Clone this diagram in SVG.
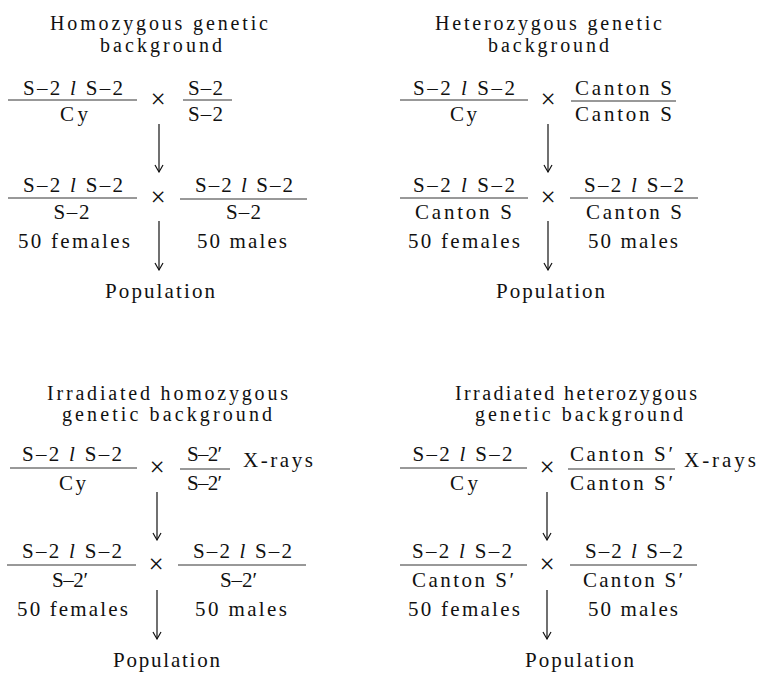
<svg xmlns="http://www.w3.org/2000/svg" width="759" height="673" viewBox="0 0 759 673">
<defs>
<style>
text{font-family:"Liberation Serif","Times New Roman",serif;font-size:21px;fill:#111;text-anchor:middle}
.ttl{font-size:20px}
.x{font-size:27px}
.bar{stroke:#333;stroke-width:1}
.arr{stroke:#111;stroke-width:1.2;fill:none}
.i{font-style:italic}
</style>
<marker id="ah" viewBox="-8 -5 9 10" refX="0" refY="0" markerWidth="9" markerHeight="10" markerUnits="userSpaceOnUse" orient="auto">
<path d="M-7,-4 Q-2,-1.2 0,0 Q-2,1.2 -7,4" fill="none" stroke="#111" stroke-width="1.2"/>
</marker>
</defs>
<rect width="759" height="673" fill="#fff"/>

<!-- Top-left panel -->
<g id="title-homozygous">
<text class="ttl" x="159" y="30" textLength="218" lengthAdjust="spacing">Homozygous genetic</text>
<text class="ttl" x="161" y="52" textLength="122" lengthAdjust="spacing">background</text>
</g>
<g id="tl-p1">
<text x="73" y="95" textLength="100" lengthAdjust="spacing">S–2 <tspan class="i">l</tspan> S–2</text>
<line class="bar" x1="8" y1="100" x2="137" y2="100"/>
<text x="74" y="121" textLength="28" lengthAdjust="spacing">Cy</text>
</g>
<text class="x" x="158" y="108">×</text>
<g id="tl-p2">
<text x="205.5" y="95" textLength="35" lengthAdjust="spacing">S–2</text>
<line class="bar" x1="183" y1="100" x2="232" y2="100"/>
<text x="205.5" y="121" textLength="35" lengthAdjust="spacing">S–2</text>
</g>
<g id="tl-f1">
<text x="73" y="192" textLength="100" lengthAdjust="spacing">S–2 <tspan class="i">l</tspan> S–2</text>
<line class="bar" x1="8" y1="198" x2="137" y2="198"/>
<text x="71.5" y="219" textLength="36" lengthAdjust="spacing">S–2</text>
<text x="74" y="248" textLength="112" lengthAdjust="spacing">50 females</text>
</g>
<text class="x" x="158" y="206">×</text>
<g id="tl-f2">
<text x="244" y="192" textLength="98" lengthAdjust="spacing">S–2 <tspan class="i">l</tspan> S–2</text>
<line class="bar" x1="180" y1="199" x2="307" y2="199"/>
<text x="243.5" y="219" textLength="35" lengthAdjust="spacing">S–2</text>
<text x="242" y="248" textLength="90" lengthAdjust="spacing">50 males</text>
</g>
<g id="tl-pop">
<text x="160" y="298" textLength="110" lengthAdjust="spacing">Population</text>
</g>

<!-- Top-right panel -->
<g id="title-heterozygous">
<text class="ttl" x="548.5" y="30" textLength="227" lengthAdjust="spacing">Heterozygous genetic</text>
<text class="ttl" x="548.5" y="52" textLength="121" lengthAdjust="spacing">background</text>
</g>
<g id="tr-p1">
<text x="464" y="95" textLength="102" lengthAdjust="spacing">S–2 <tspan class="i">l</tspan> S–2</text>
<line class="bar" x1="400" y1="100" x2="528" y2="100"/>
<text x="463.5" y="121" textLength="27" lengthAdjust="spacing">Cy</text>
</g>
<text class="x" x="548" y="108">×</text>
<g id="tr-p2">
<text x="623.5" y="95" textLength="97" lengthAdjust="spacing">Canton S</text>
<line class="bar" x1="571" y1="101" x2="676" y2="101"/>
<text x="623.5" y="121" textLength="97" lengthAdjust="spacing">Canton S</text>
</g>
<g id="tr-f1">
<text x="464" y="192" textLength="102" lengthAdjust="spacing">S–2 <tspan class="i">l</tspan> S–2</text>
<line class="bar" x1="400" y1="198" x2="528" y2="198"/>
<text x="463.5" y="219" textLength="97" lengthAdjust="spacing">Canton S</text>
<text x="464" y="248" textLength="112" lengthAdjust="spacing">50 females</text>
</g>
<text class="x" x="548" y="206">×</text>
<g id="tr-f2">
<text x="634" y="192" textLength="100" lengthAdjust="spacing">S–2 <tspan class="i">l</tspan> S–2</text>
<line class="bar" x1="570" y1="198" x2="698" y2="198"/>
<text x="634" y="219" textLength="96" lengthAdjust="spacing">Canton S</text>
<text x="633" y="248" textLength="90" lengthAdjust="spacing">50 males</text>
</g>
<g id="tr-pop">
<text x="550.5" y="298" textLength="109" lengthAdjust="spacing">Population</text>
</g>

<!-- Bottom-left panel -->
<g id="title-irr-homozygous">
<text class="ttl" x="167.5" y="400" textLength="241" lengthAdjust="spacing">Irradiated homozygous</text>
<text class="ttl" x="167" y="421" textLength="210" lengthAdjust="spacing">genetic background</text>
</g>
<g id="bl-p1">
<text x="72" y="461" textLength="100" lengthAdjust="spacing">S–2 <tspan class="i">l</tspan> S–2</text>
<line class="bar" x1="10" y1="468" x2="137" y2="468"/>
<text x="72.5" y="490" textLength="27" lengthAdjust="spacing">Cy</text>
</g>
<text class="x" x="157" y="476">×</text>
<g id="bl-p2">
<text x="204.5" y="461" textLength="35" lengthAdjust="spacing">S–2′</text>
<line class="bar" x1="180" y1="469" x2="230" y2="469"/>
<text x="204.5" y="490" textLength="35" lengthAdjust="spacing">S–2′</text>
<text x="278" y="467" textLength="70" lengthAdjust="spacing">X-rays</text>
</g>
<g id="bl-f1">
<text x="72" y="558" textLength="100" lengthAdjust="spacing">S–2 <tspan class="i">l</tspan> S–2</text>
<line class="bar" x1="7" y1="565" x2="136" y2="565"/>
<text x="70" y="587" textLength="36" lengthAdjust="spacing">S–2′</text>
<text x="72.5" y="616" textLength="111" lengthAdjust="spacing">50 females</text>
</g>
<text class="x" x="156" y="573">×</text>
<g id="bl-f2">
<text x="242.5" y="558" textLength="99" lengthAdjust="spacing">S–2 <tspan class="i">l</tspan> S–2</text>
<line class="bar" x1="178" y1="565" x2="306" y2="565"/>
<text x="238.5" y="587" textLength="37" lengthAdjust="spacing">S–2′</text>
<text x="241" y="616" textLength="92" lengthAdjust="spacing">50 males</text>
</g>
<g id="bl-pop">
<text x="166.5" y="667" textLength="107" lengthAdjust="spacing">Population</text>
</g>

<!-- Bottom-right panel -->
<g id="title-irr-heterozygous">
<text class="ttl" x="576" y="400" textLength="242" lengthAdjust="spacing">Irradiated heterozygous</text>
<text class="ttl" x="579" y="421" textLength="208" lengthAdjust="spacing">genetic background</text>
</g>
<g id="br-p1">
<text x="462.5" y="461" textLength="100" lengthAdjust="spacing">S–2 <tspan class="i">l</tspan> S–2</text>
<line class="bar" x1="400" y1="468" x2="527" y2="468"/>
<text x="464" y="490" textLength="28" lengthAdjust="spacing">Cy</text>
</g>
<text class="x" x="547" y="476">×</text>
<g id="br-p2">
<text x="621.5" y="461" textLength="103" lengthAdjust="spacing">Canton S′</text>
<line class="bar" x1="568" y1="469" x2="675" y2="469"/>
<text x="621.5" y="490" textLength="103" lengthAdjust="spacing">Canton S′</text>
<text x="720" y="467" textLength="72" lengthAdjust="spacing">X-rays</text>
</g>
<g id="br-f1">
<text x="462" y="558" textLength="100" lengthAdjust="spacing">S–2 <tspan class="i">l</tspan> S–2</text>
<line class="bar" x1="400" y1="565" x2="527" y2="565"/>
<text x="463" y="587" textLength="102" lengthAdjust="spacing">Canton S′</text>
<text x="464" y="616" textLength="112" lengthAdjust="spacing">50 females</text>
</g>
<text class="x" x="547" y="573">×</text>
<g id="br-f2">
<text x="634" y="558" textLength="98" lengthAdjust="spacing">S–2 <tspan class="i">l</tspan> S–2</text>
<line class="bar" x1="570" y1="565" x2="697" y2="565"/>
<text x="633" y="587" textLength="100" lengthAdjust="spacing">Canton S′</text>
<text x="633" y="616" textLength="90" lengthAdjust="spacing">50 males</text>
</g>
<g id="br-pop">
<text x="579.5" y="667" textLength="109" lengthAdjust="spacing">Population</text>
</g>

<g id="connectors">
<line class="arr" x1="159" y1="124" x2="159" y2="172" marker-end="url(#ah)"/>
<line class="arr" x1="159" y1="221" x2="159" y2="270" marker-end="url(#ah)"/>
<line class="arr" x1="548" y1="124" x2="548" y2="172" marker-end="url(#ah)"/>
<line class="arr" x1="548" y1="221" x2="548" y2="270" marker-end="url(#ah)"/>
<line class="arr" x1="157" y1="492" x2="157" y2="540" marker-end="url(#ah)"/>
<line class="arr" x1="157" y1="590" x2="157" y2="639" marker-end="url(#ah)"/>
<line class="arr" x1="547" y1="492" x2="547" y2="540" marker-end="url(#ah)"/>
<line class="arr" x1="547" y1="590" x2="547" y2="639" marker-end="url(#ah)"/>
</g>
</svg>
